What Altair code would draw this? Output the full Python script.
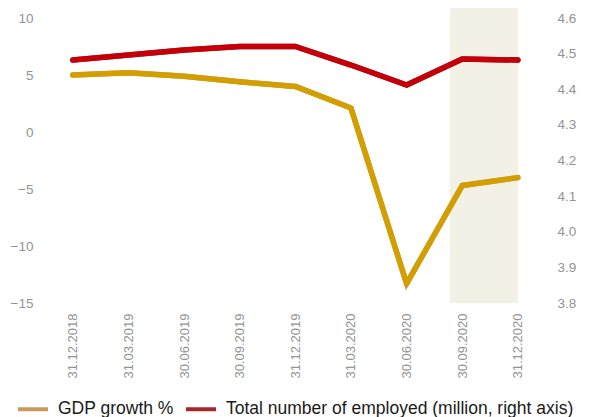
import altair as alt
import pandas as pd

dates = ["31.12.2018", "31.03.2019", "30.06.2019", "30.09.2019", "31.12.2019",
         "31.03.2020", "30.06.2020", "30.09.2020", "31.12.2020"]
gdp = [5.0, 5.2, 4.9, 4.4, 4.0, 2.1, -13.3, -4.7, -4.0]
employed = [4.482, 4.496, 4.51, 4.52, 4.52, 4.468, 4.412, 4.485, 4.482]
shade_start = [6.78]
shade_end = [8.0]

series_names = ["GDP growth %", "Total number of employed (million, right axis)"]
line_colors = ["#d39e00", "#c3000a"]
legend_colors = ["#c79a5c", "#a5262d"]

FONT = "Liberation Sans"
W, H = 484, 285

df = pd.DataFrame({"i": list(range(len(dates))), "date": dates, "gdp": gdp, "emp": employed,
                   "s_gdp": series_names[0], "s_emp": series_names[1]})
shade_df = pd.DataFrame({"s": shade_start, "e": shade_end})

label_expr = "[" + ",".join("'%s'" % d for d in dates) + "][datum.value]"
x_scale = alt.Scale(domain=[-0.5, 8.2], nice=False, zero=False)
x_enc = alt.X("i:Q", scale=x_scale, title=None,
              axis=alt.Axis(values=list(range(len(dates))), labelExpr=label_expr,
                            labelAngle=270, labelPadding=10, domain=False, ticks=False,
                            grid=False, labelColor="#939393", labelFont=FONT,
                            labelFontSize=13))

color_scale = alt.Scale(domain=series_names, range=legend_colors)
legend = alt.Legend(orient="none", legendX=-29, legendY=374, direction="horizontal",
                    title=None, symbolType="stroke", symbolSize=900, symbolStrokeWidth=4,
                    labelFont=FONT, labelFontSize=17.5, labelColor="#1a1a1a",
                    labelOffset=8, columnPadding=4, labelLimit=500)

base = alt.Chart(df)

shade = alt.Chart(shade_df).mark_rect(color="#f3f0e5").encode(
    x=alt.X("s:Q", scale=x_scale), x2="e:Q", y=alt.value(-10), y2=alt.value(H)
)

gdp_y = alt.Y("gdp:Q", scale=alt.Scale(domain=[-15, 10], nice=False), title=None,
              axis=alt.Axis(orient="left", values=[-15, -10, -5, 0, 5, 10], domain=False,
                            ticks=False, grid=False, labelPadding=12, labelColor="#939393",
                            labelFont=FONT, labelFontSize=13.5))
gdp_layer = alt.layer(
    base.mark_line(strokeWidth=5.5, strokeCap="round").encode(
        x=x_enc, y=gdp_y, color=alt.Color("s_gdp:N", scale=color_scale, legend=legend)),
    base.mark_line(strokeWidth=5.5, strokeCap="round", strokeJoin="round",
                   color=line_colors[0]).encode(x=x_enc, y=gdp_y),
)

emp_y = alt.Y("emp:Q", scale=alt.Scale(domain=[3.8, 4.6], nice=False, zero=False), title=None,
              axis=alt.Axis(orient="right", values=[3.8, 3.9, 4.0, 4.1, 4.2, 4.3, 4.4, 4.5, 4.6],
                            domain=False, ticks=False, grid=False, labelPadding=28,
                            labelColor="#939393", labelFont=FONT, labelFontSize=13.5))
emp_layer = alt.layer(
    base.mark_line(strokeWidth=5.5, strokeCap="round").encode(
        x=x_enc, y=emp_y, color=alt.Color("s_emp:N", scale=color_scale, legend=legend)),
    base.mark_line(strokeWidth=5.5, strokeCap="round", strokeJoin="round",
                   color=line_colors[1]).encode(x=x_enc, y=emp_y),
)

chart = alt.layer(shade, gdp_layer, emp_layer).resolve_scale(y="independent").properties(
    width=W, height=H,
    padding={"left": 37, "top": 10, "right": 52, "bottom": 114},
    autosize=alt.AutoSizeParams(type="none"),
).configure_view(stroke=None)

chart.save("out.html", embed_options={"renderer": "svg", "actions": False})
